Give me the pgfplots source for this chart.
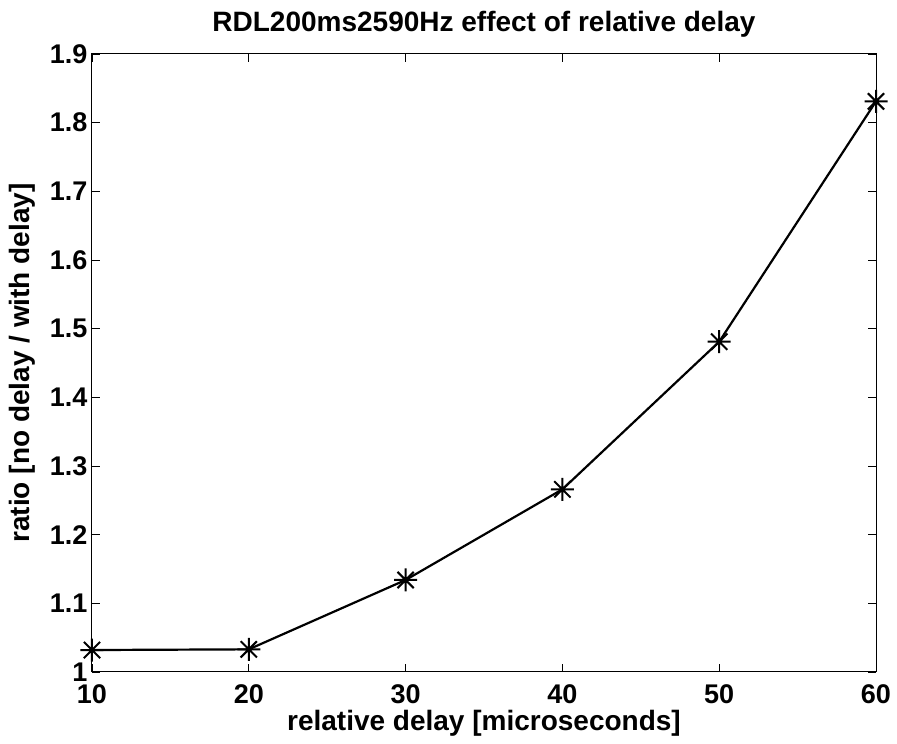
\documentclass[border=0pt]{standalone}
\usepackage{fontspec}
\setmainfont{Liberation Sans}
\usepackage{pgfplots}
\pgfplotsset{compat=1.18}
\pgfdeclareplotmark{ast8}{%
  \pgfpathmoveto{\pgfqpoint{-\pgfplotmarksize}{0pt}}\pgfpathlineto{\pgfqpoint{\pgfplotmarksize}{0pt}}%
  \pgfpathmoveto{\pgfqpoint{0pt}{-\pgfplotmarksize}}\pgfpathlineto{\pgfqpoint{0pt}{\pgfplotmarksize}}%
  \pgfpathmoveto{\pgfqpoint{-0.707\pgfplotmarksize}{-0.707\pgfplotmarksize}}\pgfpathlineto{\pgfqpoint{0.707\pgfplotmarksize}{0.707\pgfplotmarksize}}%
  \pgfpathmoveto{\pgfqpoint{-0.707\pgfplotmarksize}{0.707\pgfplotmarksize}}\pgfpathlineto{\pgfqpoint{0.707\pgfplotmarksize}{-0.707\pgfplotmarksize}}%
  \pgfusepathqstroke}
\begin{document}
\begin{tikzpicture}
\useasboundingbox (-92pt,-72pt) rectangle (805pt,672pt);
\begin{axis}[
  at={(0,0)}, anchor=south west,
  scale only axis, width=784pt, height=618pt,
  xmin=10, xmax=60, ymin=1, ymax=1.9,
  xtick={10,20,...,60}, ytick={1,1.1,...,1.9},
  yticklabels={1,1.1,1.2,1.3,1.4,1.5,1.6,1.7,1.8,1.9},
  tick align=inside, tick pos=both,
  major tick length=8pt,
  axis line style={line width=1pt}, tick style={line width=0.8pt,black},
  every tick label/.style={font=\fontsize{27}{32}\selectfont\bfseries},
  /pgf/number format/assume math mode=true,
  xticklabel style={anchor=center, yshift=-22.5pt, inner ysep=0pt},
  yticklabel style={anchor=east, xshift=-1pt, inner ysep=0pt},
  title={\fontsize{28}{32}\selectfont\bfseries RDL200ms2590Hz effect of relative delay},
  title style={at={(axis description cs:0.5,1.038)}, anchor=center},
  xlabel={\fontsize{28}{32}\selectfont\bfseries relative delay [microseconds]},
  ylabel={\fontsize{28}{32}\selectfont\bfseries ratio [no delay / with delay]},
  xlabel style={at={(axis description cs:0.5,-0.0824)}, anchor=center},
  ylabel style={at={(axis description cs:-0.0894,0.5)}, anchor=center},
]
\addplot[black, line width=2.2pt, mark=ast8, mark size=11.5pt, mark options={line width=2pt}]
coordinates {(10,1.032) (20,1.033) (30,1.134) (40,1.266) (50,1.481) (60,1.831)};
\end{axis}
\end{tikzpicture}
\end{document}
